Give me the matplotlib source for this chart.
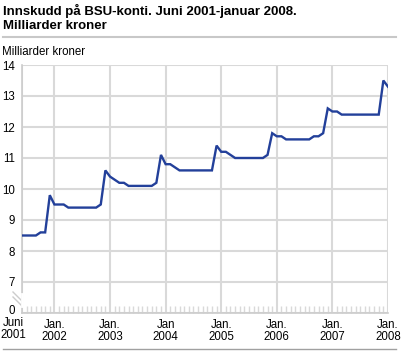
import numpy as np
import matplotlib
matplotlib.use('Agg')
import matplotlib.pyplot as plt
from matplotlib.lines import Line2D

plt.rcParams['font.family'] = ['Liberation Sans', 'DejaVu Sans']

# monthly values, June 2001 - January 2008 (billion NOK)
values = [
    8.5, 8.5, 8.5, 8.5, 8.6, 8.6, 9.8,                                   # 2001 jun-dec
    9.5, 9.5, 9.5, 9.4, 9.4, 9.4, 9.4, 9.4, 9.4, 9.4, 9.5, 10.6,          # 2002
    10.4, 10.3, 10.2, 10.2, 10.1, 10.1, 10.1, 10.1, 10.1, 10.1, 10.2, 11.1,  # 2003
    10.8, 10.8, 10.7, 10.6, 10.6, 10.6, 10.6, 10.6, 10.6, 10.6, 10.6, 11.4,  # 2004
    11.2, 11.2, 11.1, 11.0, 11.0, 11.0, 11.0, 11.0, 11.0, 11.0, 11.1, 11.8,  # 2005
    11.7, 11.7, 11.6, 11.6, 11.6, 11.6, 11.6, 11.6, 11.7, 11.7, 11.8, 12.6,  # 2006
    12.5, 12.5, 12.4, 12.4, 12.4, 12.4, 12.4, 12.4, 12.4, 12.4, 12.4, 13.5,  # 2007
    13.3,                                                                 # 2008 jan
]
tick_months = [0, 7, 19, 31, 43, 55, 67, 79]
tick_labels = ['Juni\n2001', 'Jan.\n2002', 'Jan.\n2003', 'Jan\n2004',
               'Jan.\n2005', 'Jan.\n2006', 'Jan.\n2007', 'Jan.\n2008']
y_ticks = [6, 7, 8, 9, 10, 11, 12, 13, 14]
y_labels = ['0', '7', '8', '9', '10', '11', '12', '13', '14']

grid = '#d9d9d9'
blue = '#23409a'
fs = 8.3

fig = plt.figure(figsize=(4.06, 3.53), dpi=100)
ax = fig.add_axes([22 / 406, 1 - 313 / 353, 366 / 406, 248 / 353])

x = np.arange(len(values))
ax.plot(x, values, color=blue, lw=1.7, solid_joinstyle='miter', zorder=3)

ax.set_xlim(0, len(values) - 1)
ax.set_ylim(6, 14)
ax.set_xticks(tick_months)
ax.set_xticklabels([''] + tick_labels[1:], fontsize=fs, linespacing=1.0)
ax.set_xticks(x, minor=True)
ax.set_yticks(y_ticks)
ax.set_yticklabels([''] + y_labels[1:], fontsize=fs)

# first x label sits left of the axis, "0" sits just above the labels
ax.annotate(tick_labels[0], xy=(tick_months[0], y_ticks[0]), xycoords='data',
            xytext=(-9, -4), textcoords='offset pixels', ha='center', va='top',
            fontsize=fs, linespacing=1.0, annotation_clip=False)
ax.annotate(y_labels[0], xy=(tick_months[0], y_ticks[0]), xycoords='data',
            xytext=(-7, 2), textcoords='offset pixels', ha='right', va='center',
            fontsize=fs, annotation_clip=False)

ax.grid(True, which='major', color=grid, lw=1.5)
ax.tick_params(axis='x', which='major', length=0, pad=4)
ax.tick_params(axis='x', which='minor', direction='in', length=5, color=grid, width=1)
ax.tick_params(axis='y', length=0, pad=5)
for s in ['top', 'right']:
    ax.spines[s].set_visible(False)
for s in ['left', 'bottom']:
    ax.spines[s].set_color('#cccccc')
    ax.spines[s].set_linewidth(1.2)

# axis break marks between 0 and 7
for dy in (0, 5):
    fig.add_artist(Line2D([13 / 406, 22 / 406],
                          [1 - (292 + dy) / 353, 1 - (301 + dy) / 353],
                          color='#cccccc', lw=1))
fig.add_artist(Line2D([22 / 406, 22 / 406], [1 - 294 / 353, 1 - 306 / 353],
                      color='white', lw=2))

fig.text(3 / 406, 1 - 4 / 353, 'Innskudd på BSU-konti. Juni 2001-januar 2008.\nMilliarder kroner',
         fontsize=9.5, fontweight='bold', va='top', ha='left', linespacing=1.2)
fig.add_artist(Line2D([3 / 406, 396 / 406], [1 - 37 / 353, 1 - 37 / 353], color='#c8c8c8', lw=1.5))
fig.add_artist(Line2D([3 / 406, 396 / 406], [1 - 349 / 353, 1 - 349 / 353], color='#a0a0a0', lw=1))
fig.text(2 / 406, 1 - 52 / 353, 'Milliarder kroner', fontsize=fs, va='center', ha='left')

fig.savefig('out.png', dpi=100)
